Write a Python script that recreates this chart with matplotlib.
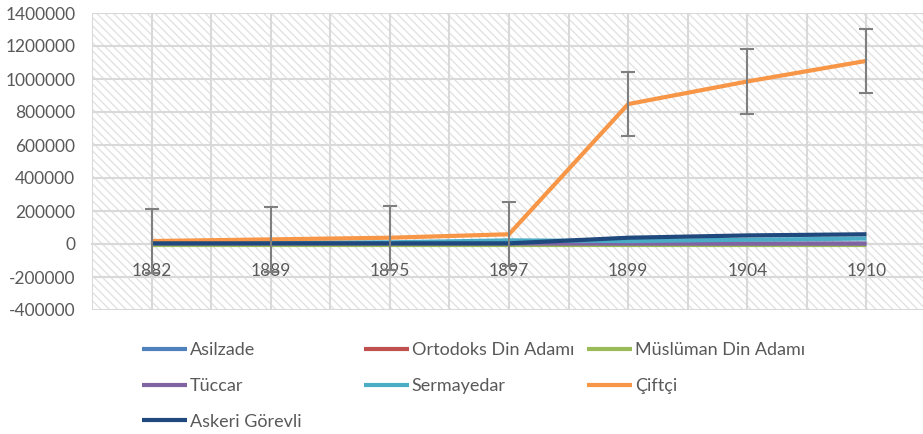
import numpy as np
import matplotlib.pyplot as plt
from matplotlib.patches import Rectangle
from matplotlib.lines import Line2D
from matplotlib.ticker import FuncFormatter

plt.rcParams['font.family'] = ['Lato', 'DejaVu Sans']
plt.rcParams['hatch.linewidth'] = 0.9

# data
years = ['1882', '1889', '1895', '1897', '1899', '1904', '1910']
asilzade = [3000, 3000, 3000, 3000, 2000, 2000, 2000]
ortodoks = [1000, 1000, 1000, 1000, 1000, 1000, 1000]
musluman = [-5000, -5000, -5000, -5000, -5000, -5000, -5000]
tuccar = [3000, 3000, 3000, 3000, 2000, 2000, 2000]
sermayedar = [6000, 8000, 10000, 22000, 18000, 26000, 33000]
ciftci = [18000, 28000, 38000, 59000, 848000, 985000, 1110000]
askeri = [4000, 4000, 4000, 4000, 38000, 52000, 59000]
ciftci_err = 195000

names = ['Asilzade', 'Ortodoks Din Adamı', 'Müslüman Din Adamı',
         'Tüccar', 'Sermayedar', 'Çiftçi', 'Askeri Görevli']
series = [asilzade, ortodoks, musluman, tuccar, sermayedar, ciftci, askeri]
colors = ['#4F81BD', '#C0504D', '#9BBB59', '#8064A2', '#4BACC6', '#F79646', '#1F497D']

txt = '#595959'
grid = '#d9d9d9'

fig = plt.figure(figsize=(9.23, 4.34), dpi=100)
ax = fig.add_axes([92/923, 1 - 310/434, 834/923, 297/434])
x = np.arange(len(years))

# hatched plot background
ax.patch.set_visible(False)
ax.add_patch(Rectangle((0, 0), 1, 1, transform=ax.transAxes, facecolor='white',
                       edgecolor='#e0e0e0', hatch='\\\\\\\\', lw=0, zorder=0))

for s, c in zip(series, colors):
    ax.plot(x, s, color=c, lw=3, solid_capstyle='butt', zorder=3)

ax.errorbar(x, ciftci, yerr=ciftci_err, fmt='none', ecolor='#7f7f7f',
            elinewidth=1.5, capsize=5, capthick=1.5, zorder=4)

ax.set_xlim(-0.5, 6.5)
ax.set_ylim(-400000, 1400000)
ax.set_yticks(np.arange(-400000, 1400001, 200000))
ax.yaxis.set_major_formatter(FuncFormatter(lambda v, p: '%d' % v))
ax.set_xticks(x)
ax.set_xticklabels(years)
ax.set_xticks(np.arange(-0.5, 7, 1), minor=True)

ax.grid(True, which='both', color=grid, lw=1.5, zorder=1)
ax.set_axisbelow(True)
for sp in ['top', 'right', 'left']:
    ax.spines[sp].set_visible(False)
ax.spines['bottom'].set_position(('data', 0))
ax.spines['bottom'].set_color(grid)
ax.spines['bottom'].set_linewidth(1.5)
ax.spines['bottom'].set_zorder(2)

ax.tick_params(axis='both', which='both', length=0, labelcolor=txt, labelsize=12.5)
ax.tick_params(axis='y', pad=12)
ax.tick_params(axis='x', pad=14)

# legend in three columns, placed like the original
handles = [Line2D([], [], color=c, lw=3, solid_capstyle='butt') for c in colors]
cols = [[0, 3, 6], [1, 4], [2, 5]]
xs = [142, 364, 587]
for idx, xp in zip(cols, xs):
    leg = fig.legend([handles[i] for i in idx], [names[i] for i in idx],
                     loc='upper left', bbox_to_anchor=(xp/923, 1 - 342/434),
                     frameon=False, fontsize=13, handlelength=2.5,
                     handletextpad=0.15, labelspacing=1.1, borderpad=0,
                     borderaxespad=0, labelcolor=txt)

fig.savefig('out.png', dpi=100)
